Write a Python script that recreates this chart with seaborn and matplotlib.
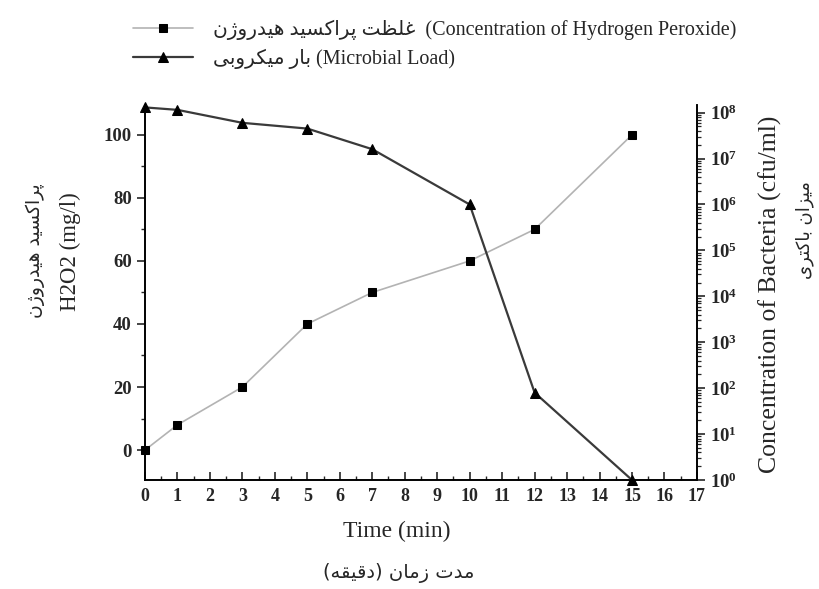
import numpy as np
import pandas as pd
import seaborn as sns
import matplotlib
matplotlib.use("Agg")
import matplotlib.pyplot as plt
from matplotlib.ticker import MultipleLocator, FuncFormatter, LogLocator, NullFormatter

# --- Data ---
time_h2o2 = [0, 1, 3, 5, 7, 10, 12, 15]
h2o2_mg_l = [0, 8, 20, 40, 50, 60, 70, 100]

time_bact = [0, 1, 3, 5, 7, 10, 12, 15]
bact_cfu_ml = [1.3e8, 1.15e8, 6.0e7, 4.5e7, 1.6e7, 1.0e6, 80, 1.0]

x_ticks = list(range(0, 18))
y_ticks = [0, 20, 40, 60, 80, 100]

label_h2o2_fa = "غلظت پراکسید هیدروژن"
label_h2o2_en = "(Concentration of Hydrogen Peroxide)"
label_bact_fa = "بار میکروبی"
label_bact_en = "(Microbial Load)"
ylabel_left_fa = "پراکسید هیدروژن"
ylabel_left_en = "H2O2 (mg/l)"
ylabel_right_fa = "میزان باکتری"
ylabel_right_en = "Concentration of Bacteria (cfu/ml)"
xlabel_en = "Time (min)"
xlabel_fa = "مدت زمان (دقیقه)"

# --- Minimal Persian shaping (matplotlib has no complex text layout) ---
# isolated, final, initial, medial presentation forms
FORMS = {
    "ا": ("\uFE8D", "\uFE8E", None, None),
    "ب": ("\uFE8F", "\uFE90", "\uFE91", "\uFE92"),
    "ت": ("\uFE95", "\uFE96", "\uFE97", "\uFE98"),
    "د": ("\uFEA9", "\uFEAA", None, None),
    "ر": ("\uFEAD", "\uFEAE", None, None),
    "ز": ("\uFEAF", "\uFEB0", None, None),
    "س": ("\uFEB1", "\uFEB2", "\uFEB3", "\uFEB4"),
    "ظ": ("\uFEC5", "\uFEC6", "\uFEC7", "\uFEC8"),
    "غ": ("\uFECD", "\uFECE", "\uFECF", "\uFED0"),
    "ق": ("\uFED5", "\uFED6", "\uFED7", "\uFED8"),
    "ل": ("\uFEDD", "\uFEDE", "\uFEDF", "\uFEE0"),
    "م": ("\uFEE1", "\uFEE2", "\uFEE3", "\uFEE4"),
    "ن": ("\uFEE5", "\uFEE6", "\uFEE7", "\uFEE8"),
    "ه": ("\uFEE9", "\uFEEA", "\uFEEB", "\uFEEC"),
    "و": ("\uFEED", "\uFEEE", None, None),
    "پ": ("\uFB56", "\uFB57", "\uFB58", "\uFB59"),
    "ژ": ("\uFB8A", "\uFB8B", None, None),
    "ک": ("\uFB8E", "\uFB8F", "\uFB90", "\uFB91"),
    "ی": ("\uFBFC", "\uFBFD", "\uFBFE", "\uFBFF"),
}


def fa(s):
    out = []
    for i, ch in enumerate(s):
        f = FORMS.get(ch)
        if f is None:
            out.append(ch)
            continue
        prev = s[i - 1] if i > 0 else ""
        nxt = s[i + 1] if i + 1 < len(s) else ""
        join_prev = prev in FORMS and FORMS[prev][2] is not None
        join_next = f[2] is not None and nxt in FORMS
        if join_prev and join_next:
            out.append(f[3])
        elif join_prev:
            out.append(f[1])
        elif join_next:
            out.append(f[2])
        else:
            out.append(f[0])
    vis = "".join(reversed(out))
    return vis.translate(str.maketrans("()", ")("))


sns.set_style("ticks")
plt.rcParams["font.family"] = ["Liberation Serif", "DejaVu Sans"]
plt.rcParams["mathtext.fontset"] = "custom"
plt.rcParams["mathtext.bf"] = "Liberation Serif:bold"
plt.rcParams["mathtext.rm"] = "Liberation Serif:bold"

h2o2_df = pd.DataFrame({"time": time_h2o2, "h2o2": h2o2_mg_l})
bact_df = pd.DataFrame({"time": time_bact, "bact": bact_cfu_ml})

fig = plt.figure(figsize=(8.19, 5.89), dpi=100)
ax = fig.add_axes([0.177, 0.185, 0.674, 0.637])
ax2 = ax.twinx()

sns.lineplot(data=h2o2_df, x="time", y="h2o2", ax=ax, color="#b3b3b3", linewidth=1.2,
             marker="s", markersize=5.5, markerfacecolor="black", markeredgecolor="black",
             clip_on=False, zorder=3)
sns.lineplot(data=bact_df, x="time", y="bact", ax=ax2, color="#3a3a3a", linewidth=1.6,
             marker="^", markersize=7, markerfacecolor="black", markeredgecolor="black",
             clip_on=False, zorder=3)

# left axis
ax.set_xlim(0, 17)
ax.set_ylim(-9.5, 109.5)
ax.set_xticks(x_ticks)
ax.set_yticks(y_ticks)
ax.xaxis.set_minor_locator(MultipleLocator(0.5))
ax.yaxis.set_minor_locator(MultipleLocator(10))
ax.tick_params(axis="x", direction="in", length=6, width=1.2, labelsize=13, pad=6)
ax.tick_params(axis="x", which="minor", direction="in", length=3, width=1)
ax.tick_params(axis="y", direction="out", length=6, width=1.2, labelsize=13.5)
ax.tick_params(axis="y", which="minor", direction="out", length=3, width=1)
for lab in ax.get_xticklabels() + ax.get_yticklabels():
    lab.set_fontweight("bold")
ax.set_xlabel("")
ax.set_ylabel("")

# right axis (log)
ax2.set_yscale("log")
ax2.set_ylim(1, 10 ** 8.17)
ax2.yaxis.set_major_locator(LogLocator(base=10, numticks=20))
ax2.yaxis.set_minor_locator(LogLocator(base=10, subs=np.arange(2, 10), numticks=20))
ax2.yaxis.set_minor_formatter(NullFormatter())
ax2.yaxis.set_major_formatter(FuncFormatter(lambda v, p: r"$\mathbf{10^{%d}}$" % round(np.log10(v))))
ax2.tick_params(axis="y", direction="out", length=6, width=1.2, labelsize=13.5)
ax2.tick_params(axis="y", which="minor", direction="out", length=3, width=0.9)
ax2.set_ylabel("")

for a in (ax, ax2):
    a.spines["top"].set_visible(False)
    for s in ("left", "right", "bottom"):
        a.spines[s].set_linewidth(1.2)
        a.spines[s].set_color("black")

# axis titles
fig.text(0.484, 0.098, xlabel_en, ha="center", va="center", fontsize=17)
fig.text(0.487, 0.028, fa(xlabel_fa), ha="center", va="center", fontsize=14,
         family=["DejaVu Sans"])
fig.text(0.086, 0.572, ylabel_left_en, ha="center", va="center", rotation=90, fontsize=16.5)
fig.text(0.043, 0.575, fa(ylabel_left_fa), ha="center", va="center", rotation=90,
         fontsize=13.5, family=["DejaVu Sans"])
fig.text(0.940, 0.50, ylabel_right_en, ha="center", va="center", rotation=90, fontsize=18.5)
fig.text(0.982, 0.61, fa(ylabel_right_fa), ha="center", va="center", rotation=90,
         fontsize=13, family=["DejaVu Sans"])

# legend at top
h1 = ax.get_lines()[0]
h2 = ax2.get_lines()[0]
fig.legend([h1, h2],
           [fa(label_h2o2_fa) + "  " + label_h2o2_en, fa(label_bact_fa) + " " + label_bact_en],
           loc="upper left", bbox_to_anchor=(0.145, 0.99), frameon=False,
           prop={"family": ["Liberation Serif", "DejaVu Sans"], "size": 14.5},
           handlelength=3.0, handletextpad=1.0, labelspacing=0.45, borderaxespad=0.3)

fig.savefig("out.png", dpi=100)
